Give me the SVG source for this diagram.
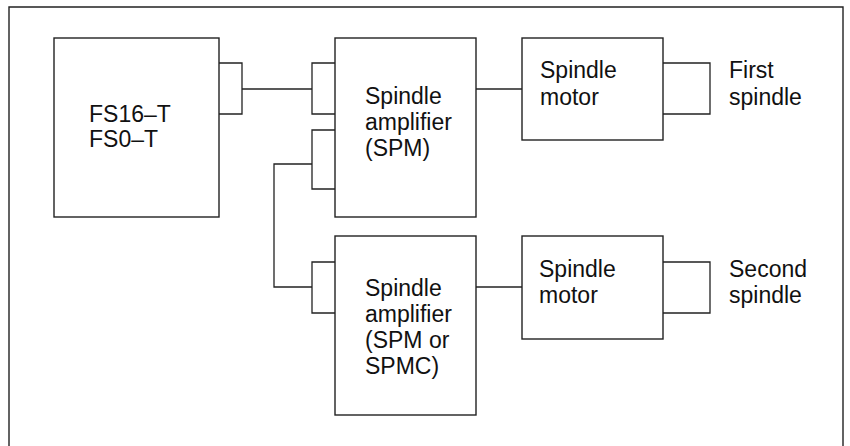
<svg xmlns="http://www.w3.org/2000/svg" width="850" height="446" viewBox="0 0 850 446">
<style>
.b{fill:none;stroke:#222;stroke-width:1.4}
.w{fill:#fff;stroke:#222;stroke-width:1.4}
.c{fill:none;stroke:#222;stroke-width:1.3}
text{font-family:"Liberation Sans",Arial,sans-serif;font-size:23px;fill:#111}
</style>
<rect width="850" height="446" fill="#fff"/>
<path class="b" d="M9,446 V7 H843 V446"/>
<g id="connectors">
<path class="c" d="M219,63 H242 V114 H219"/>
<path class="c" d="M242,89 H312"/>
<path class="c" d="M335,63 H312 V114 H335"/>
<path class="c" d="M335,130 H312 V189 H335"/>
<path class="c" d="M312,164 H274 V287 H312"/>
<path class="c" d="M335,262 H312 V313 H335"/>
<path class="c" d="M476,89 H522"/>
<path class="c" d="M663,63 H710 V114 H663"/>
<path class="c" d="M476,287 H522"/>
<path class="c" d="M663,262 H710 V313 H663"/>
</g>
<g id="fs">
<rect class="w" x="54" y="38" width="165" height="179"/>
<text x="89" y="122">FS16–T</text>
<text x="89" y="147">FS0–T</text>
</g>
<g id="spm1">
<rect class="w" x="335" y="38" width="141" height="179"/>
<text x="365" y="104">Spindle</text>
<text x="365" y="130">amplifier</text>
<text x="365" y="156">(SPM)</text>
</g>
<g id="motor1">
<rect class="w" x="522" y="38" width="141" height="102"/>
<text x="540" y="78">Spindle</text>
<text x="540" y="105">motor</text>
</g>
<g id="spindle1">
<text x="729" y="78">First</text>
<text x="729" y="105">spindle</text>
</g>
<g id="spm2">
<rect class="w" x="335" y="236" width="141" height="179"/>
<text x="365" y="296">Spindle</text>
<text x="365" y="322">amplifier</text>
<text x="365" y="348">(SPM or</text>
<text x="365" y="374">SPMC)</text>
</g>
<g id="motor2">
<rect class="w" x="522" y="236" width="141" height="103"/>
<text x="539" y="277">Spindle</text>
<text x="539" y="303">motor</text>
</g>
<g id="spindle2">
<text x="729" y="277">Second</text>
<text x="729" y="303">spindle</text>
</g>
</svg>
